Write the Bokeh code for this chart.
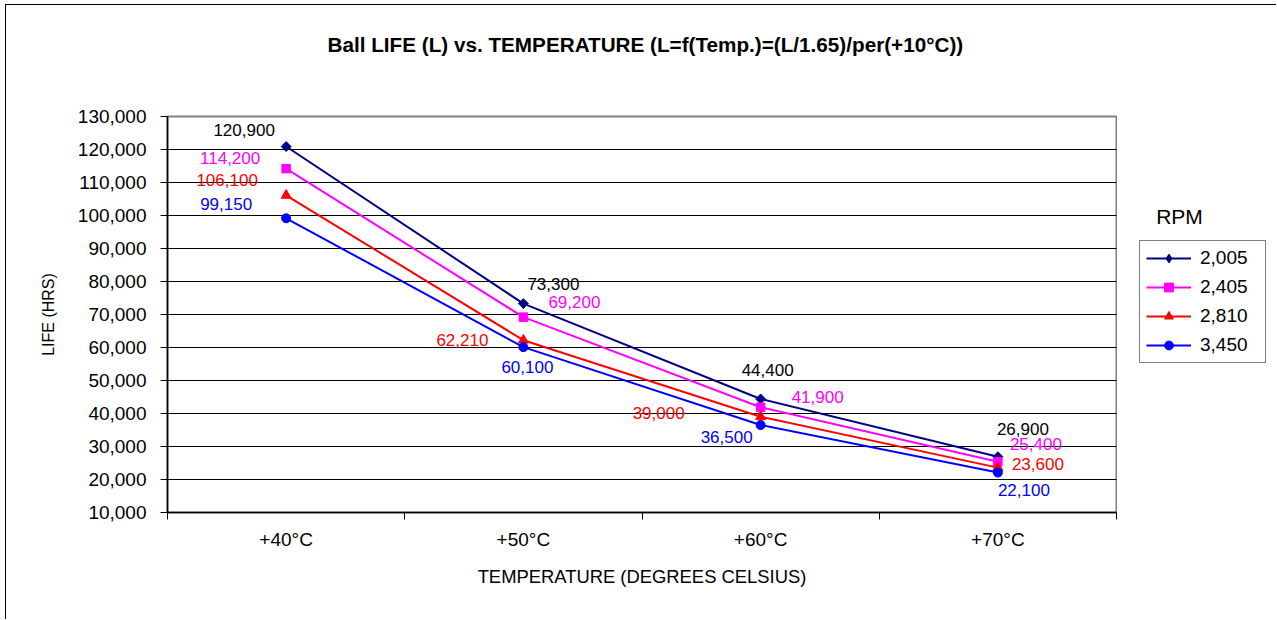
import math
from bokeh.plotting import figure
from bokeh.layouts import row
from bokeh.models import (FixedTicker, Legend, LegendItem, Label, Range1d,
                          NumeralTickFormatter, Title)
from bokeh.core.properties import value
from bokeh.embed import file_html
from bokeh.resources import INLINE

# ---- data ----
categories = ["+40°C", "+50°C", "+60°C", "+70°C"]
rpm_labels = ["2,005", "2,405", "2,810", "3,450"]
life_2005 = [120900, 73300, 44400, 26900]
life_2405 = [114200, 69200, 41900, 25400]
life_2810 = [106100, 62210, 39000, 23600]
life_3450 = [99150, 60100, 36500, 22100]
y_ticks = list(range(10000, 130001, 10000))
chart_title = "Ball LIFE (L) vs. TEMPERATURE (L=f(Temp.)=(L/1.65)/per(+10°C))"
legend_title = "RPM"

FONT = "Liberation Sans"
xs = list(range(len(categories)))

p = figure(width=1111, height=614, output_backend="svg", toolbar_location=None,
           title=None,
           x_range=Range1d(-0.5, len(categories) - 0.5),
           y_range=Range1d(10000, 130000),
           min_border_left=161, min_border_right=1,
           min_border_top=111, min_border_bottom=107)

# spacer (nearest to frame), then the real title above it
p.add_layout(Title(text=" ", text_font_size="1px", standoff=58), "above")
p.add_layout(Title(text=chart_title, align="left", offset=160, standoff=0,
                   vertical_align="bottom", text_font=FONT, text_font_size="20.7px",
                   text_font_style="bold", text_color="black"), "above")

p.outline_line_color = "#808080"
p.outline_line_width = 2
p.background_fill_color = "white"
p.border_fill_color = "white"

# x axis
xa = p.xaxis[0]
xa.ticker = FixedTicker(ticks=xs, minor_ticks=[i - 0.5 for i in range(len(categories) + 1)])
xa.major_label_overrides = {i: c for i, c in enumerate(categories)}
xa.major_tick_out = 0
xa.major_tick_in = 0
xa.minor_tick_out = 7
xa.minor_tick_in = 0
xa.minor_tick_line_color = "black"
xa.axis_line_color = "black"
xa.axis_line_width = 1.5
xa.major_label_standoff = 9
xa.major_label_text_font = FONT
xa.major_label_text_font_size = "19px"
xa.major_label_text_color = "black"
xa.axis_label = "TEMPERATURE (DEGREES CELSIUS)"
xa.axis_label_text_font = FONT
xa.axis_label_text_font_size = "18.4px"
xa.axis_label_text_font_style = "normal"
xa.axis_label_text_color = "black"
xa.axis_label_standoff = 13

# y axis
ya = p.yaxis[0]
ya.ticker = FixedTicker(ticks=y_ticks)
ya.formatter = NumeralTickFormatter(format="0,0")
ya.major_tick_out = 7
ya.major_tick_in = 0
ya.major_tick_line_color = "black"
ya.minor_tick_line_color = None
ya.axis_line_color = "black"
ya.axis_line_width = 1.5
ya.major_label_standoff = 14
ya.major_label_text_font = FONT
ya.major_label_text_font_size = "19px"
ya.major_label_text_color = "black"
ya.axis_label = "LIFE (HRS)"
ya.axis_label_text_font = FONT
ya.axis_label_text_font_size = "16px"
ya.axis_label_text_font_style = "normal"
ya.axis_label_text_color = "black"
ya.axis_label_standoff = 18

p.xgrid.visible = False
p.ygrid.ticker = FixedTicker(ticks=y_ticks)
p.ygrid.grid_line_color = "black"
p.ygrid.grid_line_width = 1

# series styles
series = [
    dict(vals=life_2005, color="#000080", lab_color="black", marker="square", size=7, angle=math.pi / 4,
         leg_marker="diamond", leg_size=11,
         dx=[-42, 30, 7, 25], dy=[-17, -20, -29, -28]),
    dict(vals=life_2405, color="#FF00FF", lab_color="#FF00FF", marker="square", size=8.5, angle=0,
         leg_marker="square", leg_size=8.5,
         dx=[-56, 51, 57, 38], dy=[-11, -15, -10, -18]),
    dict(vals=life_2810, color="#FF0000", lab_color="#FF0000", marker="triangle", size=10, angle=0,
         leg_marker="triangle", leg_size=10,
         dx=[-59, -61, -102, 40], dy=[-15, 0, -4, -4]),
    dict(vals=life_3450, color="#0000FF", lab_color="#0000FF", marker="circle", size=9, angle=0,
         leg_marker="circle", leg_size=9,
         dx=[-60, 4, -34, 26], dy=[-14, 20, 12, 17]),
]

for s in series:
    p.line(xs, s["vals"], line_color=s["color"], line_width=2)
    p.scatter(xs, s["vals"], marker=s["marker"], size=s["size"], angle=s["angle"],
              fill_color=s["color"], line_color=s["color"])

for s in series:
    p.text(x=xs, y=s["vals"], text=[f"{v:,}" for v in s["vals"]],
           x_offset=s["dx"], y_offset=s["dy"],
           text_color=s["lab_color"], text_font=value(FONT), text_font_size="17px",
           text_align="center", text_baseline="middle")

# ---- legend panel (separate figure on the right; its frame aligns with p's frame) ----
p2 = figure(width=159, height=614, output_backend="svg", toolbar_location=None,
            title=None, x_axis_type=None, y_axis_type=None,
            x_range=Range1d(0, 1), y_range=Range1d(0, 1), min_border=0)
p2.outline_line_color = None
p2.background_fill_color = "white"
p2.border_fill_color = "white"

items = []
for lab, s in zip(rpm_labels, series):
    # same series data; it lies outside p2's ranges, so only the legend swatch shows
    ln = p2.line(xs, s["vals"], line_color=s["color"], line_width=2)
    mk = p2.scatter(xs, s["vals"], marker=s["leg_marker"], size=s["leg_size"],
                    fill_color=s["color"], line_color=s["color"])
    items.append(LegendItem(label=lab, renderers=[ln, mk]))

legend = Legend(items=items, location=(22, 149), orientation="vertical")
legend.border_line_color = "black"
legend.border_line_width = 1
legend.background_fill_color = "white"
legend.background_fill_alpha = 1
legend.padding = 6
legend.margin = 0
legend.spacing = 7
legend.glyph_width = 45
legend.glyph_height = 22
legend.label_height = 22
legend.label_width = 59
legend.label_standoff = 9
legend.label_text_font = FONT
legend.label_text_font_size = "19px"
legend.label_text_color = "black"
legend.label_text_baseline = "middle"
p2.add_layout(legend)

rpm = Label(x=62, y=296, x_units="screen", y_units="screen", text=legend_title,
            text_font=FONT, text_font_size="21px", text_color="black",
            text_align="center", text_baseline="middle")
p2.add_layout(rpm)

layout = row(p, p2, spacing=0)
layout.styles = {"margin-left": "5px", "margin-top": "4px",
                 "border-left": "1px solid black", "border-top": "1px solid black"}

open("out.html", "w").write(file_html(layout, INLINE))
